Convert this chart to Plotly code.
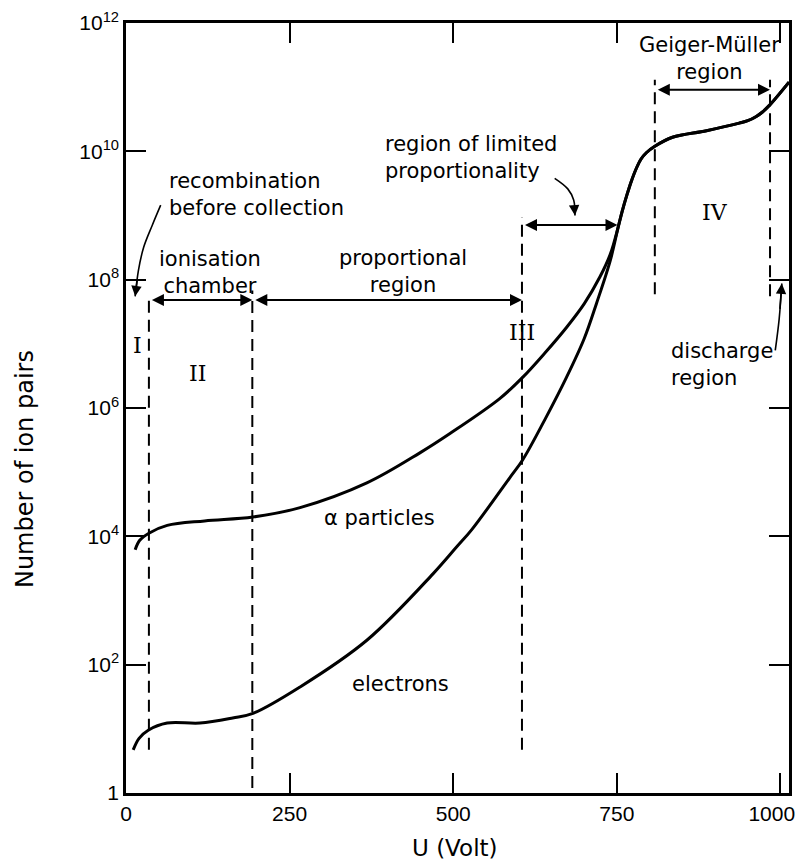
import numpy as np
import plotly.graph_objects as go

# --- values ---
# alpha particles: voltage (V) and number of ion pairs
alpha_volts = [14, 21, 35, 63, 120, 194, 266, 368, 449, 495, 571, 606, 640, 673, 700, 724, 740,
               752, 758, 765, 772, 780, 787, 795, 808, 835, 887, 937, 950, 963, 972, 983, 1013]
alpha_pairs = [6.2e3, 8.7e3, 1.12e4, 1.48e4, 1.74e4, 2.0e4, 2.8e4, 6.8e4, 2.0e5, 4.0e5, 1.4e6,
               3.0e6, 7.2e6, 1.8e7, 4.2e7, 1.1e8, 2.5e8, 6.6e8, 1.15e9, 2.04e9, 3.4e9, 5.5e9,
               7.6e9, 9.5e9, 1.2e10, 1.66e10, 2.1e10, 2.75e10, 3.0e10, 3.5e10, 4.07e10, 5.2e10,
               1.2e11]

# electrons: voltage (V) and number of ion pairs
electron_volts = [11, 20, 34, 63, 113, 163, 194, 266, 368, 469, 505, 528, 586, 606, 640, 673, 700,
                  719, 740, 752, 758, 765, 772, 780, 787, 795, 808, 835, 887, 937, 950, 963, 972,
                  983, 1013]
electron_pairs = [4.7, 7.1, 9.5, 12.3, 12.3, 14.8, 17.4, 45, 240, 2.6e3, 6.8e3, 1.26e4, 8.1e4,
                  1.55e5, 6.6e5, 3.0e6, 1.2e7, 4.3e7, 2.0e8, 6.6e8, 1.15e9, 2.04e9, 3.4e9, 5.5e9,
                  7.6e9, 9.5e9, 1.2e10, 1.66e10, 2.1e10, 2.75e10, 3.0e10, 3.5e10, 4.07e10, 5.2e10,
                  1.2e11]

# dashed region boundaries: voltage, top and bottom of each line
boundary_volts = [35, 193, 605, 808, 984]
boundary_top = [5.1e7, 6.8e7, 9.3e8, 1.3e11, 1.3e11]
boundary_bottom = [4.7, 1.2, 4.7, 5.9e7, 5.5e7]

# double headed region arrows: start, end (V) and height (ion pairs)
span_start = [35, 193, 605, 808]
span_end = [193, 605, 751, 984]
span_level = [4.8e7, 4.8e7, 7.1e8, 9.1e10]

# curved pointer arrows (last point is the tip)
recomb_volts = [53, 40, 27, 19, 14]
recomb_pairs = [1.45e9, 7.0e8, 3.2e8, 1.4e8, 5.5e7]
limited_volts = [655, 675, 684, 686]
limited_pairs = [3.8e9, 2.6e9, 1.74e9, 1.0e9]
discharge_volts = [992, 998, 1002]
discharge_pairs = [7.9e6, 2.45e7, 8.7e7]

y_tickvals = [1, 1e2, 1e4, 1e6, 1e8, 1e10, 1e12]
y_ticktext = ["1", "10<sup>2</sup>", "10<sup>4</sup>", "10<sup>6</sup>",
              "10<sup>8</sup>", "10<sup>10</sup>", "10<sup>12</sup>"]
x_tickvals = [0, 250, 500, 750, 1000]
# trailing no-break spaces pull the last label in so it isn't cut at the page edge
x_ticktext = ["0", "250", "500", "750", "1000&nbsp;&nbsp;&nbsp;"]

FONT = "DejaVu Sans"
TICK_FONT = "Liberation Sans, sans-serif"
SERIF = "DejaVu Serif"
BLACK = "black"

fig = go.Figure()

# main curves
for xs, ys, name in [(alpha_volts, alpha_pairs, "α particles"),
                     (electron_volts, electron_pairs, "electrons")]:
    fig.add_trace(go.Scatter(x=xs, y=ys, mode="lines", name=name,
                             line=dict(color=BLACK, width=3, shape="spline", smoothing=1.0)))

# dashed boundaries
for v, top, bot in zip(boundary_volts, boundary_top, boundary_bottom):
    fig.add_trace(go.Scatter(x=[v, v], y=[bot, top], mode="lines",
                             line=dict(color=BLACK, width=2, dash="12px,7px")))

# curved pointers
for xs, ys in [(recomb_volts, recomb_pairs), (limited_volts, limited_pairs),
               (discharge_volts, discharge_pairs)]:
    fig.add_trace(go.Scatter(x=xs, y=ys, mode="lines",
                             line=dict(color=BLACK, width=1.6, shape="spline")))
    fig.add_annotation(x=xs[-1], y=np.log10(ys[-1]), ax=xs[-2], ay=np.log10(ys[-2]),
                       axref="x", ayref="y", xref="x", yref="y", text=" ",
                       showarrow=True, arrowhead=2, arrowsize=1.3, arrowwidth=1.6,
                       arrowcolor=BLACK, standoff=0)

# region span arrows
for a, b, lvl in zip(span_start, span_end, span_level):
    fig.add_annotation(x=b, y=np.log10(lvl), ax=a, ay=np.log10(lvl),
                       axref="x", ayref="y", xref="x", yref="y", text=" ",
                       showarrow=True, arrowhead=2, arrowside="end+start",
                       arrowsize=1.2, arrowwidth=2, arrowcolor=BLACK, standoff=0, startstandoff=0)

# labels (x in volts, y in decades)
labels = [
    ("recombination<br>before collection", 62, 9.32, "left"),
    ("ionisation<br>chamber", 128, 8.11, "center"),
    ("proportional<br>region", 423, 8.12, "center"),
    ("region of limited<br>proportionality", 393, 9.9, "left"),
    ("Geiger-Müller<br>region", 892, 11.44, "center"),
    ("discharge<br>region", 830, 6.68, "left"),
    ("α particles", 387, 4.29, "center"),
    ("electrons", 419, 1.70, "center"),
]
for txt, x, y, anchor in labels:
    fig.add_annotation(x=x, y=y, text=txt, showarrow=False, xanchor=anchor, yanchor="middle",
                       align=anchor, font=dict(family=FONT, size=21, color=BLACK))

for txt, x, y in [("I", 18, 6.97), ("II", 110, 6.54), ("III", 605, 7.18), ("IV", 900, 9.05)]:
    fig.add_annotation(x=x, y=y, text=txt, showarrow=False, xanchor="center", yanchor="middle",
                       font=dict(family=SERIF, size=22, color=BLACK))

# axis titles placed freely like the original
fig.add_annotation(x=-0.152, y=0.421, xref="paper", yref="paper", text="Number of ion pairs",
                   textangle=-90, showarrow=False, xanchor="center", yanchor="middle",
                   font=dict(family=FONT, size=24, color=BLACK))
fig.add_annotation(x=0.496, y=-0.0714, xref="paper", yref="paper", text="U (Volt)",
                   showarrow=False, xanchor="center", yanchor="middle",
                   font=dict(family=FONT, size=23, color=BLACK))

axis_style = dict(showline=True, linecolor=BLACK, linewidth=2.5, mirror="ticks",
                  ticks="inside", ticklen=20, tickwidth=2, tickcolor=BLACK,
                  showgrid=False, zeroline=False, automargin=False, ticklabeloverflow="allow",
                  tickfont=dict(family=TICK_FONT, size=21, color=BLACK))

fig.update_xaxes(range=[0, 1013], tickvals=x_tickvals, ticktext=x_ticktext, **axis_style)
fig.update_yaxes(type="log", range=[0, 12], tickvals=y_tickvals, ticktext=y_ticktext,
                 **axis_style)

# the page body adds an 8px offset, so the figure is 8px smaller
fig.update_layout(width=795, height=853, autosize=False, showlegend=False,
                  margin=dict(l=118, r=14, t=15, b=68),
                  plot_bgcolor="white", paper_bgcolor="white")

fig.write_html("out.html")
